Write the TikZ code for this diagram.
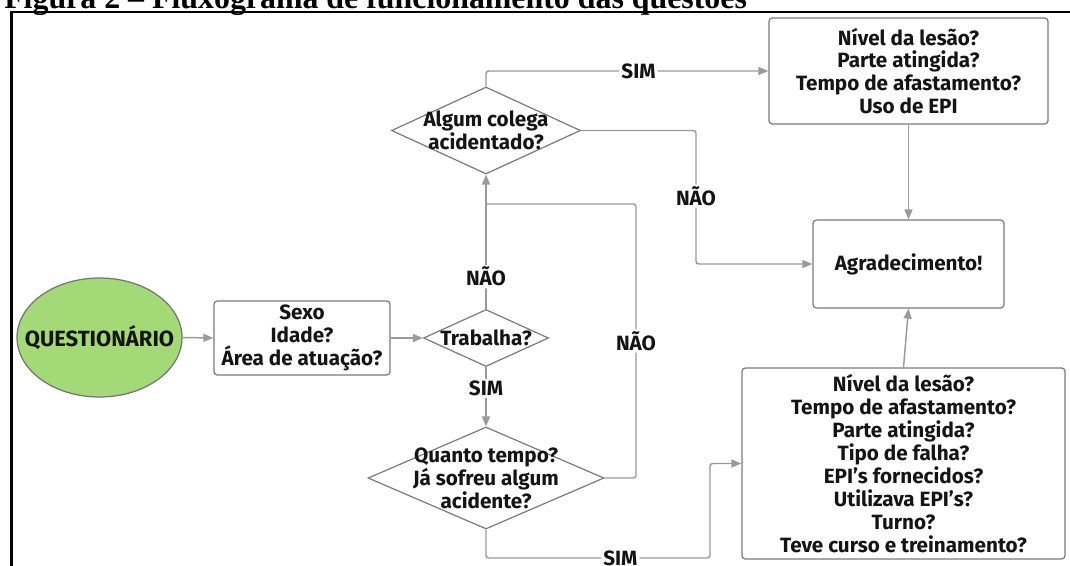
\documentclass[tikz,border=0pt]{standalone}
\usepackage{fontspec}
\setmainfont{Fira Sans}
\newfontfamily\titlefont{Liberation Serif}
\usetikzlibrary{shapes.geometric,arrows.meta}
\newdimen\pxu \pxu=0.75pt
\definecolor{linegray}{HTML}{9A9A9A}
\definecolor{boxgray}{HTML}{7A7A7A}
\definecolor{qgreen}{HTML}{A3D977}
\definecolor{txt}{HTML}{141414}
\begin{document}
\begin{tikzpicture}[x=0.75pt,y=-0.75pt,
  txtstyle/.style={font=\fontsize{15.5}{17.2}\selectfont\bfseries, text=txt, align=center},
  qbox/.style={draw=boxgray, line width=0.9pt, rounded corners=2.5pt, fill=white, txtstyle, inner sep=0pt},
  dia/.style={diamond, draw=boxgray, line width=0.9pt, fill=white, inner sep=0pt},
  conn/.style={draw=linegray, line width=1.1pt, rounded corners=2pt},
  arr/.style={conn, -{Triangle[length=7.5pt,width=6pt]}},
  lbl/.style={txtstyle, fill=white, inner sep=1.5pt}]
\useasboundingbox (0,0) rectangle (1070,565);
\fill[white] (0,0) rectangle (1070,565);
\node[anchor=base west, inner sep=0, font=\titlefont\bfseries\fontsize{23.9}{28}\selectfont] (title) at (4,8) {Figura 2 – Fluxograma de funcionamento das questões};
\draw[line width=2pt] (11.5,600) -- (11.5,12) -- (1100,12);

\node[ellipse, draw=black!55, line width=0.9pt, fill=qgreen, minimum width=165\pxu, minimum height=119\pxu, inner sep=0pt, label={[txtstyle, font=\fontsize{16.5}{18}\selectfont\bfseries]center:QUESTIONÁRIO}] (q) at (99.5,337.5) {};
\node[qbox, minimum width=176\pxu, minimum height=74\pxu] (sexo) at (302,338) {Sexo\\Idade?\\Área de atuação?};
\node[dia, minimum width=125\pxu, minimum height=57\pxu, label={[txtstyle]center:Trabalha?}] (trab) at (486,338) {};
\node[dia, minimum width=189\pxu, minimum height=87\pxu, label={[txtstyle]center:Algum colega\\acidentado?}] (alg) at (486,130.5) {};
\node[dia, minimum width=236\pxu, minimum height=102\pxu, label={[txtstyle]center:Quanto tempo?\\Já sofreu algum\\acidente?}] (qt) at (486,478) {};
\node[qbox, minimum width=279\pxu, minimum height=106\pxu] (top) at (908.5,71) {Nível da lesão?\\Parte atingida?\\Tempo de afastamento?\\Uso de EPI};
\node[qbox, minimum width=191\pxu, minimum height=88\pxu] (agr) at (908.5,264) {Agradecimento!};
\node[qbox, minimum width=323\pxu, minimum height=191\pxu] (big) at (903.5,463.5) {Nível da lesão?\\Tempo de afastamento?\\Parte atingida?\\Tipo de falha?\\EPI's fornecidos?\\Utilizava EPI's?\\Turno?\\Teve curso e treinamento?};

\coordinate (j) at (486,204);
\draw[arr] (q.east) -- (sexo.west);
\draw[arr] (sexo.east) -- (trab.west);
\draw[arr] (trab.south) -- node[lbl, pos=0.36]{SIM} (qt.north);
\draw[arr] (trab.north) -- node[lbl, pos=0.24]{NÃO} (alg.south);
\draw[conn] (qt.east) -- (636,478) -- node[lbl, pos=0.5]{NÃO} (636,204) -- (j);
\draw[arr] (qt.south) -- (486,558) -- node[lbl, pos=0.6]{SIM} (710,558) -- (710,463.5) -- (big.west);
\draw[arr] (alg.north) |- node[lbl, pos=0.77]{SIM} (top.west);
\draw[arr] (alg.east) -- (696,130.5) -- node[lbl, pos=0.49]{NÃO} (696,264) -- (agr.west);
\draw[arr] (top.south) -- (agr.north);
\draw[arr] (big.north) -- (agr.south);
\end{tikzpicture}
\end{document}
